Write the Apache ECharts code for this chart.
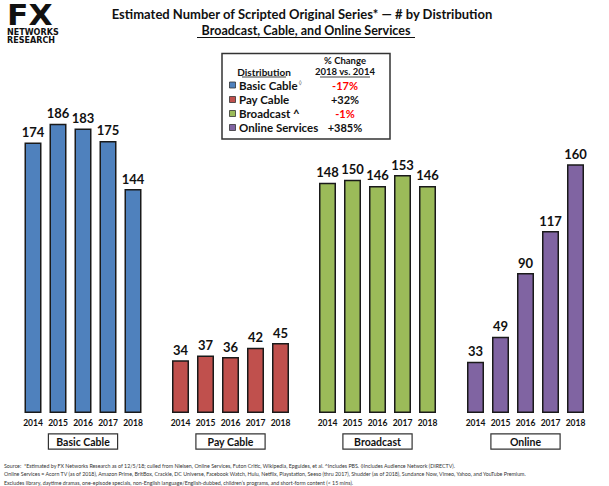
<!DOCTYPE html>
<html>
<head>
<meta charset="utf-8">
<script src="https://cdn.jsdelivr.net/npm/echarts@6/dist/echarts.min.js"></script>
<style>
html,body{margin:0;padding:0;background:#fff;}
#chart{width:609px;height:486px;}
</style>
</head>
<body>
<div id="chart"></div>
<script>
// ---- Data ----
var years = ['2014', '2015', '2016', '2017', '2018'];
var groupNames = ['Basic Cable', 'Pay Cable', 'Broadcast', 'Online'];
var basicCable = [174, 186, 183, 175, 144];
var payCable = [34, 37, 36, 42, 45];
var broadcast = [148, 150, 146, 153, 146];
var online = [33, 49, 90, 117, 160];
var legendNames = ['Basic Cable', 'Pay Cable', 'Broadcast ^', 'Online Services'];
var legendMarks = ['\u25CA', '', '', ''];
var pctChange = ['-17%', '+32%', '-1%', '+385%'];
var titleText = 'Estimated Number of Scripted Original Series* \u2014 # by Distribution';
var subtitleText = 'Broadcast, Cable, and Online Services';
var footnotes = [
  'Source:  *Estimated by FX Networks Research as of 12/5/18; culled from Nielsen, Online Services, Futon Critic, Wikipedia, Epguides, et al. ^Includes PBS. \u25CAIncludes Audience Network (DIRECTV).',
  'Online Services = Acorn TV (as of 2018), Amazon Prime, BritBox, Crackle, DC Universe, Facebook Watch, Hulu, Netflix, Playstation, Seeso (thru 2017), Shudder (as of 2018), Sundance Now, Vimeo, Yahoo, and YouTube Premium.',
  'Excludes library, daytime dramas, one-episode specials, non-English language/English-dubbed, children\u2019s programs, and short-form content (< 15 mins).'
];

var seriesData = [basicCable, payCable, broadcast, online];
var colors = ['#4F81BD', '#C0504D', '#9BBB59', '#8064A2'];
var FONT = 'Lato, "DejaVu Sans", sans-serif';

var gridLefts = [20.5, 168, 315, 463];
var grids = [], xAxes = [], yAxes = [], series = [];
for (var i = 0; i < 4; i++) {
  grids.push({left: gridLefts[i], width: 125, top: 102, bottom: 73, containLabel: false});
  xAxes.push({
    type: 'category', gridIndex: i, data: years,
    axisLine: {show: false}, axisTick: {show: false},
    axisLabel: {interval: 0, margin: 5, fontFamily: FONT, fontWeight: 'bold', fontSize: 8.5, color: '#111'},
    name: '{b|' + groupNames[i] + '}', nameLocation: 'middle', nameGap: 21.5,
    nameTextStyle: {
      borderColor: '#333', borderWidth: 1.2, backgroundColor: '#fff',
      padding: [2, 1, 1, 1],
      rich: {b: {fontFamily: FONT, fontWeight: 'bold', fontSize: 10.5, color: '#111', width: 66, align: 'center', lineHeight: 11}}
    }
  });
  yAxes.push({type: 'value', gridIndex: i, min: 0, max: 200, show: false, splitLine: {show: false}});
  series.push({
    type: 'bar', xAxisIndex: i, yAxisIndex: i, data: seriesData[i],
    barWidth: 17,
    itemStyle: {color: colors[i], borderColor: '#1a1a1a', borderWidth: 1.5},
    label: {show: true, position: 'top', distance: 4, fontFamily: FONT, fontWeight: 'bold', fontSize: 13, color: '#111'}
  });
}

var graphic = [];
// Logo
graphic.push({type: 'text', x: 7, y: 15.5, scaleX: 1.12, style: {text: 'FX', font: 'bold 28px "DejaVu Sans", sans-serif', lineHeight: 22, fill: '#111', verticalAlign: 'middle'}});
graphic.push({type: 'text', x: 7, y: 32, scaleX: 1.12, style: {text: 'NETWORKS', font: 'bold 8px "DejaVu Sans Condensed", "DejaVu Sans", sans-serif', lineHeight: 8, fill: '#111', verticalAlign: 'middle'}});
graphic.push({type: 'text', x: 7, y: 40.5, scaleX: 1.12, style: {text: 'RESEARCH', font: 'bold 8px "DejaVu Sans Condensed", "DejaVu Sans", sans-serif', lineHeight: 8, fill: '#111', verticalAlign: 'middle'}});
// Title
graphic.push({type: 'text', x: 302, y: 14, style: {text: titleText, font: 'bold 13px ' + FONT, fill: '#111', align: 'center', verticalAlign: 'middle'}});
graphic.push({type: 'text', x: 306, y: 30, style: {text: subtitleText, font: 'bold 12.5px ' + FONT, fill: '#111', align: 'center', verticalAlign: 'middle'}});
graphic.push({type: 'line', shape: {x1: 197, y1: 37.5, x2: 415, y2: 37.5}, style: {stroke: '#111', lineWidth: 1}});
// Legend box
graphic.push({type: 'rect', shape: {x: 222, y: 53.5, width: 168, height: 85.5}, style: {fill: '#fff', stroke: '#333', lineWidth: 1.5}});
graphic.push({type: 'text', x: 264, y: 71.5, style: {text: 'Distribution', font: 'bold 10px ' + FONT, fill: '#111', align: 'center', verticalAlign: 'middle'}});
graphic.push({type: 'line', shape: {x1: 242, y1: 77, x2: 286, y2: 77}, style: {stroke: '#111', lineWidth: 0.8}});
graphic.push({type: 'text', x: 345, y: 60.5, style: {text: '% Change', font: 'bold 9.5px ' + FONT, lineHeight: 11, fill: '#111', align: 'center', verticalAlign: 'middle'}});
graphic.push({type: 'text', x: 345, y: 71.5, style: {text: '2018 vs. 2014', font: 'bold 9.5px ' + FONT, lineHeight: 11, fill: '#111', align: 'center', verticalAlign: 'middle'}});
graphic.push({type: 'line', shape: {x1: 320, y1: 77, x2: 370, y2: 77}, style: {stroke: '#111', lineWidth: 0.8}});
var rowY = [85, 99.5, 113.5, 127.5];
for (var r = 0; r < 4; r++) {
  graphic.push({type: 'rect', shape: {x: 229.5, y: rowY[r] - 3, width: 6, height: 6}, style: {fill: colors[r], stroke: '#333', lineWidth: 0.8}});
  graphic.push({type: 'text', x: 239, y: rowY[r], style: {
    text: '{n|' + legendNames[r] + '}' + (legendMarks[r] ? '{s|' + legendMarks[r] + '}' : ''),
    verticalAlign: 'middle',
    rich: {
      n: {fontFamily: FONT, fontWeight: 'bold', fontSize: 11.5, fill: '#111', lineHeight: 12},
      s: {fontFamily: FONT, fontSize: 6, fill: '#777', verticalAlign: 'top', lineHeight: 12, padding: [0, 0, 0, 1]}
    }
  }});
  graphic.push({type: 'text', x: 345, y: rowY[r], style: {text: pctChange[r], font: 'bold 11px ' + FONT, fill: pctChange[r].charAt(0) === '-' ? '#FF0000' : '#111', align: 'center', verticalAlign: 'middle'}});
}
// Footnotes
var footY = [465.7, 474, 482.5];
for (var f = 0; f < 3; f++) {
  graphic.push({type: 'text', x: 4, y: footY[f], style: {text: footnotes[f], font: '5.3px ' + FONT, fill: '#333', verticalAlign: 'middle'}});
}

var chart = echarts.init(document.getElementById('chart'), null, {renderer: 'svg'});
chart.setOption({
  backgroundColor: '#fff',
  animation: false,
  grid: grids, xAxis: xAxes, yAxis: yAxes, series: series,
  graphic: graphic
});
</script>
</body>
</html>
